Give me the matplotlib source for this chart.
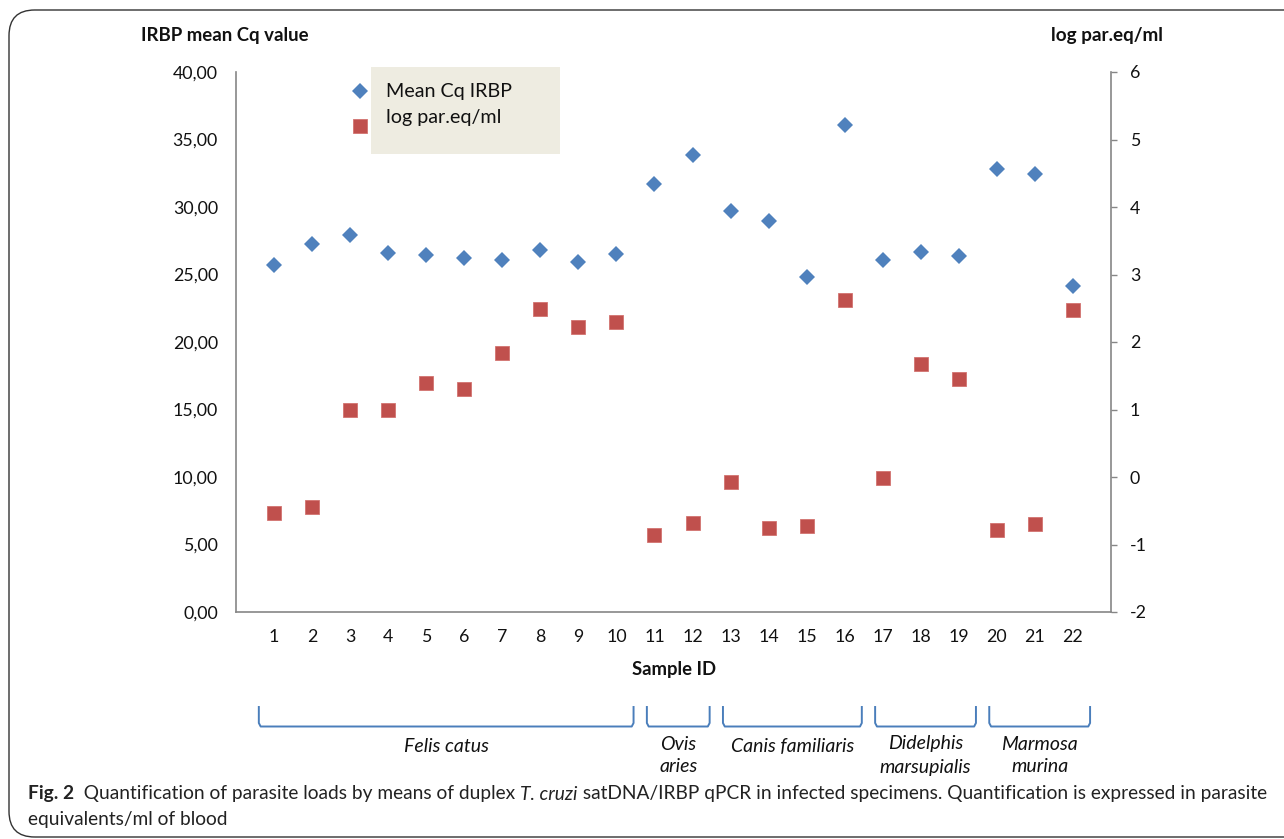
import matplotlib
matplotlib.use("Agg")
import matplotlib.pyplot as plt
from matplotlib.patches import FancyBboxPatch, Rectangle
from matplotlib.lines import Line2D
import numpy as np

# ---------------- data ----------------
sample_ids = list(range(1, 23))
mean_cq_irbp = [25.70, 27.25, 27.95, 26.60, 26.45, 26.20, 26.05, 26.80, 25.90, 26.55,
                31.70, 33.85, 29.70, 28.95, 24.80, 36.05, 26.05, 26.65, 26.40, 32.85,
                32.45, 24.15]
log_par_eq = [-0.53, -0.44, 0.99, 1.00, 1.39, 1.31, 1.84, 2.49, 2.22, 2.29,
              -0.86, -0.68, -0.07, -0.75, -0.72, 2.62, -0.01, 1.68, 1.45, -0.79,
              -0.69, 2.47]
left_ticks = [0, 5, 10, 15, 20, 25, 30, 35, 40]
left_ticklabels = ["0,00", "5,00", "10,00", "15,00", "20,00", "25,00", "30,00", "35,00", "40,00"]
right_ticks = [-2, -1, 0, 1, 2, 3, 4, 5, 6]
right_ticklabels = ["-2", "-1", "0", "1", "2", "3", "4", "5", "6"]
group_names = ["Felis catus", "Ovis\naries", "Canis familiaris", "Didelphis\nmarsupialis", "Marmosa\nmurina"]
group_first = [1, 11, 13, 17, 20]
group_last = [10, 12, 16, 19, 22]

W, H = 1284, 839
BLUE = "#4F81BD"
RED = "#C0504D"
GRAY = "#868686"
FONT = ["Lato", "DejaVu Sans"]

plt.rcParams["font.family"] = FONT
plt.rcParams["axes.unicode_minus"] = False

fig = plt.figure(figsize=(W / 100, H / 100), dpi=100)

def fx(px):
    return px / W

def fy(py):
    return 1 - py / H

# outer rounded frame
frame = FancyBboxPatch((fx(9), fy(837)), fx(1320) - fx(9), fy(10) - fy(837),
                       boxstyle="round,pad=0,rounding_size=0.02",
                       transform=fig.transFigure, facecolor="none",
                       edgecolor="#333333", linewidth=1.0, zorder=0,
                       mutation_aspect=W / H)
fig.patches.append(frame)

ax = fig.add_axes([fx(236), fy(612), fx(1111) - fx(236), fy(72) - fy(612)])
ax2 = ax.twinx()

ax.plot(sample_ids, mean_cq_irbp, linestyle="none", marker="D", ms=8.0,
        color=BLUE, mew=0, zorder=3)
ax2.plot(sample_ids, log_par_eq, linestyle="none", marker="s", ms=10.6,
         color=RED, mec="#D27370", mew=0.6, zorder=3)

ax.set_xlim(0, 23)
ax.set_ylim(0, 40)
ax2.set_ylim(-2, 6)
ax.set_xticks(sample_ids)
ax.set_xticklabels([str(s) for s in sample_ids], fontsize=12.8)
ax.set_yticks(left_ticks)
ax.set_yticklabels(left_ticklabels, fontsize=12.8)
ax2.set_yticks(right_ticks)
ax2.set_yticklabels(right_ticklabels, fontsize=12.8)

for a in (ax, ax2):
    a.spines["top"].set_visible(False)
    for s in ("left", "bottom", "right"):
        a.spines[s].set_color(GRAY)
        a.spines[s].set_linewidth(1.2)
ax.spines["right"].set_visible(False)
ax2.spines["left"].set_visible(False)
ax2.spines["bottom"].set_visible(False)
ax.tick_params(axis="x", length=0, pad=12, colors="#111111")
ax.tick_params(axis="y", length=0, pad=13, colors="#111111")
ax2.tick_params(axis="y", length=4.5, width=1.0, color=GRAY, pad=9, labelcolor="#111111")

# axis titles
fig.text(fx(225), fy(35), "IRBP mean Cq value", ha="center", va="center",
         fontsize=13.4, fontweight="bold", color="#111111")
fig.text(fx(1107), fy(35), "log par.eq/ml", ha="center", va="center",
         fontsize=13.6, fontweight="bold", color="#111111")
fig.text(fx(674), fy(670), "Sample ID", ha="center", va="center",
         fontsize=13.3, fontweight="bold", color="#111111")

# legend (manual, Excel style)
fig.patches.append(Rectangle((fx(371), fy(154)), fx(560) - fx(371), fy(67) - fy(154),
                             transform=fig.transFigure, facecolor="#EEECE1",
                             edgecolor="none", zorder=1))
fig.lines.append(Line2D([fx(360)], [fy(91)], transform=fig.transFigure, marker="D",
                        ms=8.0, color=BLUE, mew=0, linestyle="none"))
fig.lines.append(Line2D([fx(360)], [fy(126)], transform=fig.transFigure, marker="s",
                        ms=10.6, color=RED, mec="#D27370", mew=0.6, linestyle="none"))
fig.text(fx(386), fy(91), "Mean Cq IRBP", ha="left", va="center", fontsize=14.2, color="#111111")
fig.text(fx(386), fy(118), "log par.eq/ml", ha="left", va="center", fontsize=14.2, color="#111111")

# group braces
trans = matplotlib.transforms.blended_transform_factory(ax.transData, fig.transFigure)
for name, a0, a1 in zip(group_names, group_first, group_last):
    x0, x1 = a0 - 0.2, a1 + 0.45
    if a0 == 1:
        x0 = a0 - 0.4
    r = 0.08
    xs = [x0, x0, x0 + r * 0.6, x1 - r * 0.6, x1, x1]
    ys = [fy(707), fy(723), fy(726.5), fy(726.5), fy(723), fy(707)]
    fig.lines.append(Line2D(xs, ys, transform=trans, color="#4A7EBB", lw=1.4,
                            solid_joinstyle="round"))
    xc = (x0 + x1) / 2
    if "\n" in name:
        l1, l2 = name.split("\n")
        fig.text(xc, fy(744), l1, transform=trans, ha="center", va="center",
                 fontsize=14, style="italic", color="#111111")
        fig.text(xc, fy(767), l2, transform=trans, ha="center", va="center",
                 fontsize=14, style="italic", color="#111111")
    else:
        fig.text(xc, fy(746), name, transform=trans, ha="center", va="center",
                 fontsize=14, style="italic", color="#111111")

# caption with mixed styles, fitted to the reference line width
renderer = fig.canvas.get_renderer()
pieces = [("Fig. 2", "bold", "normal"),
          ("  Quantification of parasite loads by means of duplex ", "normal", "normal"),
          ("T. cruzi", "normal", "italic"),
          (" satDNA/IRBP qPCR in infected specimens. Quantification is expressed in parasite", "normal", "normal")]
target_w = 1267 - 28
base = 13.0
tot = 0
for txt, wt, st in pieces:
    t = fig.text(0, 0, txt, fontsize=base, fontweight=wt, style=st)
    tot += t.get_window_extent(renderer=renderer).width
    t.remove()
cap_size = base * target_w / tot
xpos = 28
for txt, wt, st in pieces:
    t = fig.text(fx(xpos), fy(794), txt, ha="left", va="center", fontsize=cap_size,
                 fontweight=wt, style=st, color="#222222")
    xpos += t.get_window_extent(renderer=renderer).width
fig.text(fx(28), fy(820), "equivalents/ml of blood", ha="left", va="center",
         fontsize=cap_size, color="#222222")

fig.savefig("out.png", dpi=100)
